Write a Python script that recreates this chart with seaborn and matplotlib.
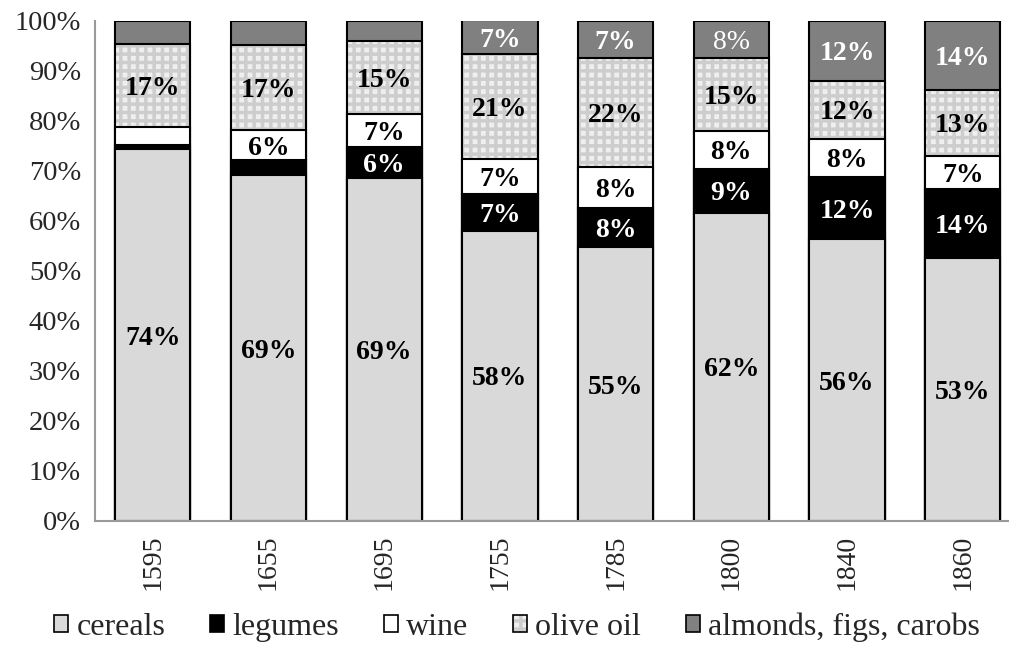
import numpy as np
import pandas as pd
import seaborn as sns
import matplotlib.pyplot as plt
from matplotlib.patches import Patch

years = ['1595', '1655', '1695', '1755', '1785', '1800', '1840', '1860']
cereals = [74.3, 69.1, 68.6, 58.0, 54.7, 61.6, 56.3, 52.6]
legumes = [0.8, 3.0, 6.1, 7.4, 7.8, 8.8, 12.4, 13.8]
wine = [3.6, 6.0, 6.6, 6.9, 8.2, 7.5, 7.7, 6.6]
olive_oil = [16.6, 17.1, 14.6, 21.0, 21.9, 14.6, 11.6, 13.1]
almonds = [4.7, 4.8, 4.1, 6.7, 7.4, 7.5, 12.0, 13.9]

names = ['cereals', 'legumes', 'wine', 'olive oil', 'almonds, figs, carobs']
series = [cereals, legumes, wine, olive_oil, almonds]
colors = ['#d9d9d9', '#000000', '#ffffff', '#efefef', '#808080']
txt_colors = ['black', 'white', 'black', 'black', 'white']
hatch_col = '#cdcdcd'

sns.set_style('white')
plt.rcParams['font.family'] = ['Liberation Serif', 'DejaVu Serif']
plt.rcParams['hatch.linewidth'] = 2.5

df = pd.DataFrame(dict(zip(names, series)), index=years)
cum = df.cumsum(axis=1)

fig = plt.figure(figsize=(10.09, 6.6), dpi=100)
ax = fig.add_axes([95 / 1009, 139 / 660, 914 / 1009, 500.5 / 660])

w = 0.65
# draw cumulative totals from the top layer down, each one covers the one before
for k in range(4, -1, -1):
    d = pd.DataFrame({'year': years, 'val': cum[names[k]].values})
    if k == 3:
        sns.barplot(data=d, x='year', y='val', color=colors[k], saturation=1,
                    width=w, edgecolor=hatch_col, linewidth=0, hatch='++', ax=ax)
        sns.barplot(data=d, x='year', y='val', color='none', saturation=1,
                    width=w, edgecolor='black', linewidth=1.5, fill=False, ax=ax)
    else:
        sns.barplot(data=d, x='year', y='val', color=colors[k], saturation=1,
                    width=w, edgecolor='black', linewidth=1.5, ax=ax)

for k in range(5):
    bottoms = cum[names[k]].values - df[names[k]].values
    for i, v in enumerate(df[names[k]].values):
        if v < 5.5:
            continue
        weight = 'bold'
        if k == 4 and years[i] == '1800':
            weight = 'normal'
        ax.text(i, bottoms[i] + v / 2, '%.0f%%' % v, ha='center', va='center_baseline',
                fontsize=20, fontweight=weight, color=txt_colors[k])

ax.set_xlim(-0.5, 7.40)
ax.set_ylim(0, 100)
ax.set_yticks(np.arange(0, 101, 10))
ax.set_yticklabels(['%d%%' % t for t in range(0, 101, 10)], fontsize=20.5)
ax.tick_params(axis='y', length=0, pad=10)
ax.tick_params(axis='x', length=0, pad=10, labelsize=20, rotation=90)
ax.set_xlabel('')
ax.set_ylabel('')
for s in ['top', 'right']:
    ax.spines[s].set_visible(False)
for s in ['left', 'bottom']:
    ax.spines[s].set_color('#9a9a9a')
    ax.spines[s].set_linewidth(1.5)

handles = []
for k in range(5):
    if k == 3:
        handles.append((Patch(facecolor=colors[k], edgecolor=hatch_col, hatch='++', linewidth=0),
                        Patch(fill=False, edgecolor='black', linewidth=1.2)))
    else:
        handles.append(Patch(facecolor=colors[k], edgecolor='black', linewidth=1.2))
leg = fig.legend(handles, names, loc='center', bbox_to_anchor=(517 / 1009, 1 - 627 / 660),
                 ncol=5, frameon=False, fontsize=23, handlelength=0.45, handleheight=0.45,
                 handletextpad=0.25, columnspacing=1.4)

fig.savefig('out.png', dpi=100)
